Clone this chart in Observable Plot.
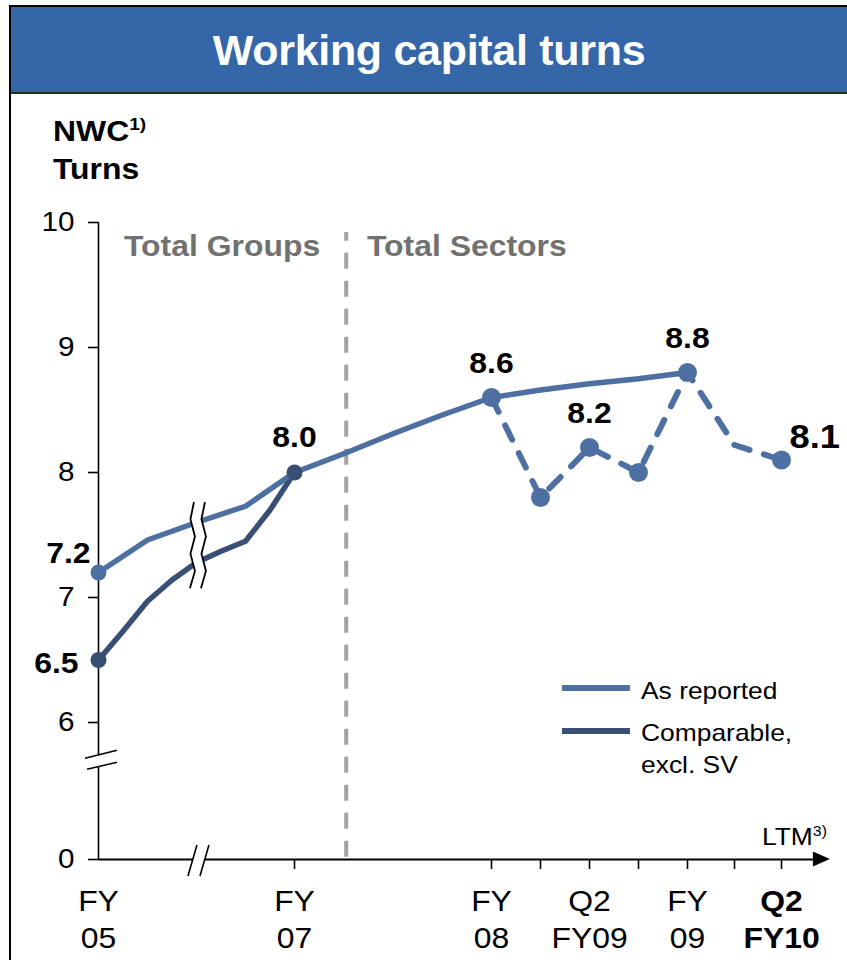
<!DOCTYPE html>
<html><head><meta charset="utf-8">
<script src="https://cdn.jsdelivr.net/npm/d3@7"></script>
<script src="https://cdn.jsdelivr.net/npm/@observablehq/plot@0.6"></script>
<style>
html,body{margin:0;padding:0;background:#fff;}
body{width:847px;height:960px;overflow:hidden;position:relative;font-family:"Liberation Sans",Arial,sans-serif;}
#frame{position:absolute;left:9px;top:5px;width:860px;height:980px;border-left:2px solid #000;border-top:2px solid #000;}
#title{position:absolute;left:11px;top:7px;width:836px;height:83px;padding-top:2px;background:#3566a8;border-bottom:2px solid #2a2a2a;color:#fff;font-weight:bold;font-size:43px;letter-spacing:-0.3px;text-align:center;line-height:83px;}
#chart{position:absolute;left:0;top:94px;}
.lab{position:absolute;white-space:nowrap;line-height:1;transform:scaleX(1.1);transform-origin:0 0;}
.b{font-weight:bold;}
.sw{position:absolute;left:562px;width:68px;height:6px;}
sup{font-size:60%;vertical-align:top;position:relative;top:-1px;}
</style></head>
<body>
<div id="frame"></div>
<div id="title">Working capital turns</div>
<div id="chart"></div>
<div class="lab b" style="left:53px;top:117px;font-size:29px;">NWC<sup>1)</sup></div>
<div class="lab b" style="left:53px;top:155px;font-size:29px;">Turns</div>
<div class="lab b" style="left:124px;top:232px;font-size:29px;color:#717171;">Total Groups</div>
<div class="lab b" style="left:367px;top:232px;font-size:29px;color:#717171;">Total Sectors</div>
<div class="lab" style="left:762px;top:825px;font-size:24px;">LTM<sup>3)</sup></div>
<div class="sw" style="top:685px;background:#4d6fa1;"></div>
<div class="sw" style="top:728px;background:#384e73;"></div>
<div class="lab" style="left:641px;top:679px;font-size:24px;">As reported</div>
<div class="lab" style="left:641px;top:721px;font-size:24px;">Comparable,</div>
<div class="lab" style="left:641px;top:753px;font-size:24px;">excl. SV</div>
<script>
// x positions are quarter indices, FY07 = 0 (axis is compressed/broken before FY07)
const tickIdx = [-8, 0, 4, 6, 8, 10];
const tickLabels = ["FY\n05", "FY\n07", "FY\n08", "Q2\nFY09", "FY\n09", "Q2\nFY10"];
const minorTickIdx = [0, 4, 5, 6, 7, 8, 9, 10];
const yTicks = [0, 6, 7, 8, 9, 10];

const asReportedIdx = [-8, -6, -4, -2, 0, 1, 2, 3, 4, 5, 6, 7, 8];
const asReportedVal = [7.2, 7.46, 7.6, 7.73, 8.0, 8.15, 8.31, 8.46, 8.6, 8.66, 8.71, 8.75, 8.8];
const comparableIdx = [-8, -7, -6, -5, -4, -3, -2, -1, 0];
const comparableVal = [6.5, 6.73, 6.97, 7.14, 7.28, 7.37, 7.45, 7.7, 8.0];
const quarterlyIdx = [4, 5, 6, 7, 8, 9, 10];
const quarterlyVal = [8.6, 7.8, 8.2, 8.0, 8.8, 8.22, 8.1];
const quarterlyDotIdx = [4, 5, 6, 7, 8, 10];
const topLabelIdx = [4, 6, 8];

const dividerIdx = 1.05;   // Total Groups | Total Sectors
const axisBreakIdx = -3.9;
const axisBreakY = 4.3;

const light = "#4d6fa1", dark = "#384e73";

const asReported = asReportedIdx.map((i, k) => ({idx: i, val: asReportedVal[k]}));
const comparable = comparableIdx.map((i, k) => ({idx: i, val: comparableVal[k]}));
const quarterly = quarterlyIdx.map((i, k) => ({idx: i, val: quarterlyVal[k]}));
const qDots = quarterly.filter(d => quarterlyDotIdx.includes(d.idx));
const ticks = tickIdx.map((i, k) => ({idx: i, label: tickLabels[k]}));
const fmt = d => d.val.toFixed(1);

const plot = Plot.plot({
  width: 847, height: 866,
  marginLeft: 98, marginRight: 66, marginTop: 128, marginBottom: 101,
  x: {type: "linear", domain: [-8, 0, 4, 8, 10], range: [98, 294, 491, 687, 781], label: null},
  y: {type: "linear", domain: [0, 6, 10], range: [765, 628, 128], label: null},
  style: {fontFamily: "'Liberation Sans', Arial, sans-serif", color: "#000", background: "transparent", overflow: "visible"},
  marks: [
    Plot.ruleX([dividerIdx], {x: d => d, y1: 0.1, y2: 9.92, stroke: "#a3a3a3", strokeWidth: 4, strokeDasharray: "16,12"}),
    Plot.ruleX([-8], {x: d => d, y1: 0, y2: 10, stroke: "#000", strokeWidth: 1.6}),
    Plot.ruleY([0], {y: d => d, x1: -8, x2: 10.7, stroke: "#000", strokeWidth: 2}),
    Plot.axisY({ticks: yTicks, tickSize: 10, tickPadding: 14, fontSize: 27, strokeWidth: 1.6, tickFormat: d => String(d)}),
    Plot.axisX({ticks: minorTickIdx, tickSize: 10, tickFormat: () => "", strokeWidth: 1.6}),
    Plot.text(ticks.filter(d => d.idx !== 10), {x: "idx", y: 0, text: "label", lineAnchor: "top", dy: 25, lineHeight: 1.28, fontSize: 29}),
    Plot.text(ticks.filter(d => d.idx === 10), {x: "idx", y: 0, text: "label", lineAnchor: "top", dy: 25, lineHeight: 1.28, fontSize: 29, fontWeight: "bold"}),
    Plot.line(quarterly, {x: "idx", y: "val", stroke: light, strokeWidth: 6, strokeDasharray: "16,15"}),
    Plot.line(comparable, {x: "idx", y: "val", stroke: dark, strokeWidth: 5.5, strokeLinejoin: "round"}),
    Plot.line(asReported, {x: "idx", y: "val", stroke: light, strokeWidth: 5.5, strokeLinejoin: "round"}),
    Plot.dot(qDots, {x: "idx", y: "val", r: 9.5, fill: light}),
    Plot.dot(asReported.filter(d => d.idx === -8), {x: "idx", y: "val", r: 8, fill: light}),
    Plot.dot(comparable.filter(d => d.idx === -8 || d.idx === 0), {x: "idx", y: "val", r: 8, fill: dark}),
    Plot.text(asReported.filter(d => d.idx === -8), {x: "idx", y: "val", text: fmt, textAnchor: "end", dx: -8, dy: -19, fontSize: 29, fontWeight: "bold"}),
    Plot.text(comparable.filter(d => d.idx === -8), {x: "idx", y: "val", text: fmt, textAnchor: "end", dx: -20, dy: 4, fontSize: 29, fontWeight: "bold"}),
    Plot.text(comparable.filter(d => d.idx === 0), {x: "idx", y: "val", text: fmt, dy: -35, fontSize: 29, fontWeight: "bold"}),
    Plot.text(quarterly.filter(d => topLabelIdx.includes(d.idx)), {x: "idx", y: "val", text: fmt, dy: -34, fontSize: 29, fontWeight: "bold"}),
    Plot.text(quarterly.filter(d => d.idx === 10), {x: "idx", y: "val", text: fmt, textAnchor: "start", dx: 8, dy: -23, fontSize: 33, fontWeight: "bold"})
  ]
});
document.getElementById("chart").appendChild(plot);

// widen chart texts slightly (reference typography is horizontally stretched)
plot.querySelectorAll("text").forEach(el => {
  const b = el.getBBox();
  const anchor = getComputedStyle(el).textAnchor;
  const ax = anchor === "end" ? b.x + b.width : anchor === "middle" ? b.x + b.width / 2 : b.x;
  const t = el.getAttribute("transform") || "";
  el.setAttribute("transform", `${t} translate(${ax},0) scale(1.1,1) translate(${-ax},0)`);
});

// decorations positioned through the plot's own scales
const sx = plot.scale("x"), sy = plot.scale("y");
const svg = d3.select(plot);
const g = svg.append("g");
// arrow head on x axis
const ax = sx.apply(10.7), ay = sy.apply(0);
g.append("path").attr("d", `M${ax - 1},${ay - 7.5}L${ax + 16},${ay}L${ax - 1},${ay + 7.5}Z`).attr("fill", "#000");
// y-axis break
const bx = sx.apply(-8), by = sy.apply(axisBreakY);
g.append("path").attr("d", `M${bx - 13},${by - 2.5}L${bx + 19},${by - 10.5}L${bx + 19},${by + 1.5}L${bx - 11},${by + 8.5}Z`).attr("fill", "#fff");
g.append("path").attr("d", `M${bx - 13},${by - 2.5}L${bx + 19},${by - 10.5}M${bx - 11},${by + 8.5}L${bx + 19},${by + 1.5}`).attr("stroke", "#000").attr("stroke-width", 1.6).attr("fill", "none");
// x-axis break
const cx = sx.apply(axisBreakIdx), cy = sy.apply(0);
g.append("path").attr("d", `M${cx - 10.5},${cy + 17}L${cx - 1.5},${cy - 14}L${cx + 10.5},${cy - 14}L${cx + 1.5},${cy + 17}Z`).attr("fill", "#fff");
g.append("path").attr("d", `M${cx - 10.5},${cy + 17}L${cx - 1.5},${cy - 14}M${cx + 1.5},${cy + 17}L${cx + 10.5},${cy - 14}`).attr("stroke", "#000").attr("stroke-width", 1.6).attr("fill", "none");
// data break (zigzag)
const y0 = sy.apply(7.76), y1 = sy.apply(7.07);
const zig = [[-4.5, 0], [-8, 0.2], [-3.5, 0.4], [-8, 0.6], [-3.5, 0.8], [-8.5, 1]];
const leftPts = zig.map(([dx, f]) => [cx + dx, y0 + f * (y1 - y0)]);
const rightPts = zig.map(([dx, f]) => [cx + dx + 11, y0 + f * (y1 - y0)]);
const line = d3.line();
g.append("path").attr("d", line(leftPts.concat(rightPts.slice().reverse())) + "Z").attr("fill", "#fff");
g.append("path").attr("d", line(leftPts)).attr("stroke", "#000").attr("stroke-width", 1.8).attr("fill", "none");
g.append("path").attr("d", line(rightPts)).attr("stroke", "#000").attr("stroke-width", 1.8).attr("fill", "none");
</script>
</body></html>
